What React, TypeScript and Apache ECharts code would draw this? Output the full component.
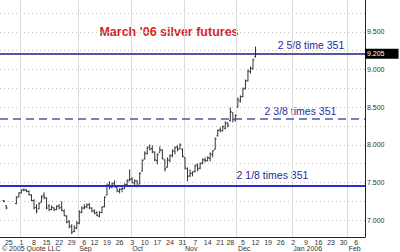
import React, { useEffect, useRef } from 'react';
import * as echarts from 'echarts';

// ---- axis / calendar ----
const FIRST_DAY = '2005-07-20';
const LAST_DAY = '2006-02-09';
const HOLIDAYS = ['2005-09-05', '2005-11-24'];
const MONTH_NAMES = ['Jan 2006', 'Feb', 'Mar', 'Apr', 'May', 'Jun', 'Jul', 'Aug', 'Sep', 'Oct', 'Nov', 'Dec'];
const HIDDEN_MONTH_LABELS = ['2005-08'];

// ---- y axis ----
const Y_MIN = 6.775;
const Y_MAX = 9.924;
const yLabelValues = [7, 7.5, 8, 8.5, 9, 9.5];
const yGridValues = [7, 7.25, 7.5, 7.75, 8, 8.25, 8.5, 8.75, 9, 9.25, 9.5, 9.75];

// ---- daily OHLC (March '06 silver), one entry per trading day from FIRST_DAY ----
const opens = [null, 7.26, 7.19, null, null, null, 7.22, 7.31, 7.36, 7.40, 7.40, 7.38, 7.33, 7.26, 7.17, 7.15, 7.24, 7.33, 7.29, 7.19, 7.14, 7.16, 7.14, 7.19, 7.17, 7.12, 7.05, 6.98, 6.92, 6.85, 6.89, 6.96, 7.10, 7.16, 7.17, 7.21, 7.16, 7.12, 7.10, 7.05, 7.10, 7.18, 7.33, 7.47, 7.44, 7.49, 7.43, 7.38, 7.41, 7.42, 7.47, 7.53, 7.55, 7.49, 7.52, 7.48, 7.65, 7.81, 7.88, 7.97, 7.95, 7.90, 7.79, 7.90, 7.93, 7.80, 7.70, 7.79, 7.86, 7.91, 7.97, 7.95, 7.94, 7.83, 7.68, 7.59, 7.62, 7.65, 7.73, 7.69, 7.76, 7.80, 7.79, 7.82, 7.87, 7.94, 8.12, 8.20, 8.19, 8.22, 8.29, 8.32, 8.43, 8.33, 8.50, 8.58, 8.64, 8.75, 8.85, 8.97, 9.01, 9.17];
const highs = [null, 7.263, 7.196, null, null, null, 7.316, 7.369, 7.409, 7.422, 7.409, 7.395, 7.342, 7.276, 7.210, 7.236, 7.329, 7.369, 7.302, 7.210, 7.196, 7.170, 7.196, 7.210, 7.250, 7.143, 7.064, 6.998, 6.945, 6.931, 6.984, 7.130, 7.183, 7.210, 7.223, 7.223, 7.170, 7.143, 7.117, 7.117, 7.183, 7.316, 7.488, 7.515, 7.501, 7.528, 7.435, 7.422, 7.435, 7.488, 7.541, 7.674, 7.568, 7.541, 7.528, 7.634, 7.806, 7.913, 7.979, 8.005, 7.992, 7.913, 7.886, 7.979, 7.939, 7.806, 7.833, 7.873, 7.939, 7.979, 7.992, 8.019, 7.952, 7.833, 7.700, 7.674, 7.647, 7.740, 7.753, 7.767, 7.820, 7.833, 7.846, 7.899, 7.926, 8.098, 8.204, 8.231, 8.257, 8.310, 8.297, 8.496, 8.430, 8.403, 8.629, 8.655, 8.761, 8.867, 9.000, 9.040, 9.146, 9.305];
const lows = [null, 7.236, 7.143, null, null, null, 7.210, 7.302, 7.356, 7.382, 7.369, 7.329, 7.250, 7.143, 7.090, 7.143, 7.236, 7.276, 7.143, 7.117, 7.130, 7.117, 7.130, 7.143, 7.117, 7.051, 6.958, 6.892, 6.812, 6.838, 6.878, 6.945, 7.090, 7.143, 7.157, 7.143, 7.104, 7.077, 7.051, 7.037, 7.090, 7.170, 7.329, 7.409, 7.422, 7.435, 7.369, 7.356, 7.369, 7.409, 7.448, 7.515, 7.488, 7.462, 7.435, 7.475, 7.647, 7.806, 7.873, 7.926, 7.886, 7.780, 7.740, 7.899, 7.806, 7.647, 7.700, 7.767, 7.833, 7.873, 7.913, 7.939, 7.833, 7.674, 7.515, 7.568, 7.581, 7.634, 7.647, 7.674, 7.740, 7.767, 7.780, 7.780, 7.833, 7.939, 8.111, 8.165, 8.178, 8.204, 8.231, 8.310, 8.297, 8.310, 8.496, 8.562, 8.629, 8.735, 8.841, 8.947, 9.000, 9.159];
const closes = [null, 7.25, 7.16, null, null, null, 7.30, 7.36, 7.40, 7.40, 7.38, 7.34, 7.26, 7.16, 7.12, 7.22, 7.31, 7.30, 7.16, 7.14, 7.17, 7.14, 7.18, 7.16, 7.13, 7.06, 6.97, 6.91, 6.84, 6.90, 6.96, 7.11, 7.16, 7.18, 7.20, 7.16, 7.12, 7.09, 7.06, 7.10, 7.17, 7.30, 7.46, 7.44, 7.48, 7.44, 7.39, 7.41, 7.42, 7.47, 7.52, 7.54, 7.50, 7.52, 7.46, 7.62, 7.79, 7.89, 7.96, 7.94, 7.91, 7.80, 7.87, 7.93, 7.82, 7.68, 7.80, 7.85, 7.92, 7.96, 7.94, 8.00, 7.85, 7.69, 7.58, 7.62, 7.64, 7.72, 7.68, 7.75, 7.80, 7.79, 7.83, 7.88, 7.92, 8.08, 8.19, 8.18, 8.24, 8.29, 8.26, 8.44, 8.34, 8.39, 8.60, 8.64, 8.74, 8.85, 8.98, 9.02, 9.13, 9.205];

// ---- reference levels ----
const levelValues = [9.205, 8.346, 7.459];
const levelTexts = ['2 5/8 time 351', '2 3/8 times 351', '2 1/8 times 351'];
const lastPriceLabel = '9.205';
const titleText = "March '06 silver futures";
const copyrightText = '\u00a9 2005 Quote LLC';

const FONT = "'Liberation Sans', Arial, Helvetica, sans-serif";

function buildTradingDays(): string[] {
  const out: string[] = [];
  const [y0, m0, d0] = FIRST_DAY.split('-').map(Number);
  const [y1, m1, d1] = LAST_DAY.split('-').map(Number);
  const d = new Date(Date.UTC(y0, m0 - 1, d0));
  const end = Date.UTC(y1, m1 - 1, d1);
  while (d.getTime() <= end) {
    const dow = d.getUTCDay();
    const s = d.toISOString().slice(0, 10);
    if (dow !== 0 && dow !== 6 && HOLIDAYS.indexOf(s) < 0) out.push(s);
    d.setUTCDate(d.getUTCDate() + 1);
  }
  return out;
}

export default function App() {
  const ref = useRef<HTMLDivElement>(null);

  useEffect(() => {
    if (!ref.current) return;
    const chart = echarts.init(ref.current, undefined, { renderer: 'svg' });
    const days = buildTradingDays();
    const dow = (s: string) => new Date(s + 'T00:00:00Z').getUTCDay();
    const isWeekStart = (i: number) => i > 0 && dow(days[i]) < dow(days[i - 1]);
    const isMonthStart = (i: number) => i > 0 && days[i].slice(0, 7) !== days[i - 1].slice(0, 7);

    const ohlc: any[] = [];
    for (let i = 0; i < highs.length; i++) {
      if (highs[i] == null) continue;
      ohlc.push([i, opens[i], highs[i], lows[i], closes[i]]);
    }

    const option: any = {
      animation: false,
      backgroundColor: '#ffffff',
      grid: { left: 0, top: 0, right: 35, bottom: 14, containLabel: false },
      xAxis: [
        {
          type: 'category',
          data: days,
          boundaryGap: true,
          position: 'bottom',
          axisLine: { show: true, lineStyle: { color: '#222', width: 1 } },
          axisTick: { show: false },
          axisLabel: {
            interval: (i: number) => isWeekStart(i),
            formatter: (v: string) => String(Number(v.slice(8))),
            margin: 2,
            fontSize: 7,
            color: '#333',
            fontFamily: FONT,
          },
          splitLine: {
            show: true,
            interval: (i: number) => isMonthStart(i),
            lineStyle: { color: '#dddddd', width: 1 },
          },
        },
        {
          type: 'category',
          data: days,
          boundaryGap: true,
          position: 'bottom',
          axisLine: { show: false },
          axisTick: { show: false },
          splitLine: { show: false },
          axisLabel: {
            interval: (i: number) => isMonthStart(i) && HIDDEN_MONTH_LABELS.indexOf(days[i].slice(0, 7)) < 0,
            formatter: (v: string) => MONTH_NAMES[Number(v.slice(5, 7)) - 1],
            align: 'left',
            margin: 8,
            fontSize: 7,
            color: '#333',
            fontFamily: FONT,
          },
        },
      ],
      yAxis: {
        type: 'value',
        position: 'right',
        min: Y_MIN,
        max: Y_MAX,
        axisLine: { show: true, lineStyle: { color: '#222', width: 1 } },
        axisTick: { show: false, customValues: yGridValues },
        axisLabel: {
          customValues: yLabelValues,
          formatter: (v: number) => v.toFixed(3),
          margin: 2,
          fontSize: 7,
          color: '#333',
          fontFamily: FONT,
        },
        splitLine: { show: true, lineStyle: { color: '#c4c4c4', type: [1, 3], width: 1 } },
      },
      graphic: [
        {
          type: 'text',
          style: {
            text: titleText,
            x: 169,
            y: 31.5,
            align: 'center',
            verticalAlign: 'middle',
            fill: '#dd1f1f',
            font: `bold 12.5px ${FONT}`,
          },
        },
        {
          type: 'text',
          style: { text: levelTexts[0], x: 311, y: 45, align: 'center', verticalAlign: 'middle', fill: '#2a2a9c', font: `10.5px ${FONT}` },
        },
        {
          type: 'text',
          style: { text: levelTexts[1], x: 300.5, y: 111, align: 'center', verticalAlign: 'middle', fill: '#2a2a9c', font: `10.5px ${FONT}` },
        },
        {
          type: 'text',
          style: { text: levelTexts[2], x: 272.5, y: 175, align: 'center', verticalAlign: 'middle', fill: '#2a2a9c', font: `10.5px ${FONT}` },
        },
        {
          type: 'text',
          style: { text: copyrightText, x: 2, y: 248.5, align: 'left', verticalAlign: 'middle', fill: '#333', font: `7px ${FONT}` },
        },
      ],
      series: [
        {
          type: 'custom',
          xAxisIndex: 0,
          yAxisIndex: 0,
          data: ohlc,
          encode: { x: 0, y: [1, 2, 3, 4] },
          renderItem: (params: any, api: any) => {
            const i = api.value(0);
            const o = api.value(1);
            const h = api.value(2);
            const l = api.value(3);
            const c = api.value(4);
            const ph = api.coord([i, h]);
            const pl = api.coord([i, l]);
            const po = api.coord([i, o]);
            const pc = api.coord([i, c]);
            const half = 1.3;
            const st = { stroke: '#333333', lineWidth: 1 };
            return {
              type: 'group',
              children: [
                { type: 'line', shape: { x1: ph[0], y1: ph[1], x2: pl[0], y2: pl[1] }, style: st },
                { type: 'line', shape: { x1: po[0] - half, y1: po[1], x2: po[0], y2: po[1] }, style: st },
                { type: 'line', shape: { x1: pc[0], y1: pc[1], x2: pc[0] + half, y2: pc[1] }, style: st },
              ],
            };
          },
          markLine: {
            silent: true,
            symbol: ['none', 'none'],
            animation: false,
            data: [
              {
                yAxis: levelValues[0],
                lineStyle: { color: '#1c1c86', width: 1.5, type: 'solid' },
                label: {
                  show: true,
                  position: 'end',
                  formatter: lastPriceLabel,
                  distance: 0,
                  color: '#ffffff',
                  backgroundColor: '#000000',
                  padding: [2, 14, 1, 2],
                  fontSize: 7,
                  fontFamily: FONT,
                },
              },
              {
                yAxis: levelValues[1],
                lineStyle: { color: '#5454ae', width: 1.5, type: [8, 5] },
                label: { show: false },
              },
              {
                yAxis: levelValues[2],
                lineStyle: { color: '#2a2ad8', width: 2, type: 'solid' },
                label: { show: false },
              },
            ],
          },
        },
      ],
    };

    chart.setOption(option);
    return () => chart.dispose();
  }, []);

  return (
    <div
      ref={ref}
      style={{ position: 'absolute', left: 0, top: 0, width: 400, height: 252, background: '#fff' }}
    />
  );
}
